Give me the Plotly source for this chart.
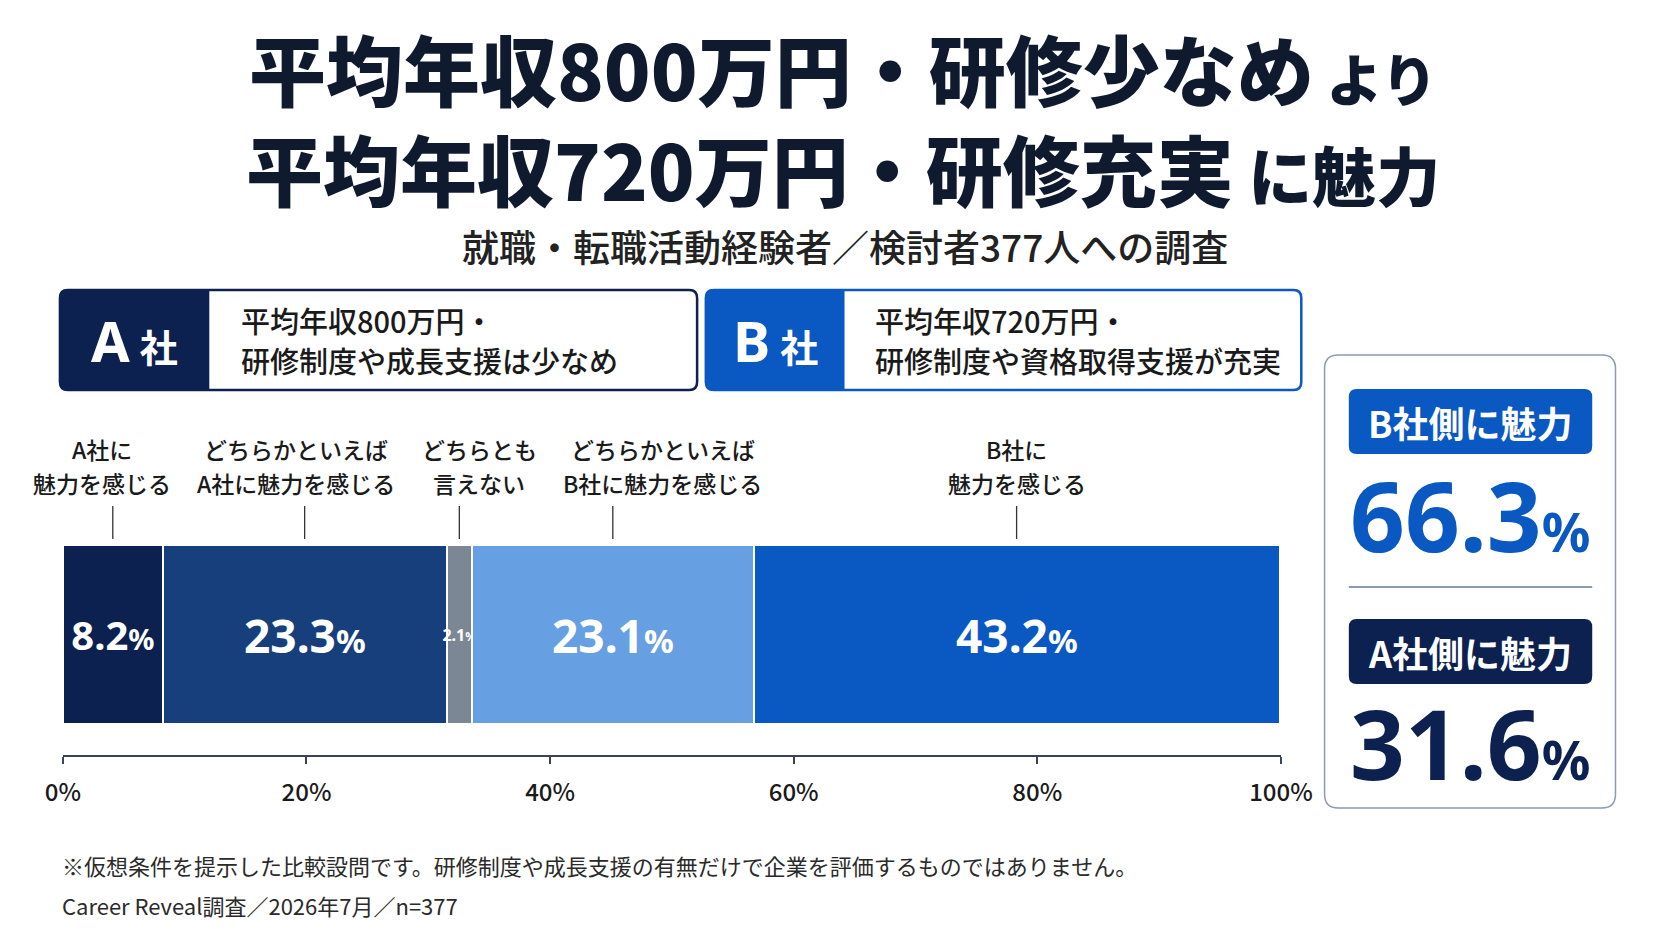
import plotly.graph_objects as go

# ── data ─────────────────────────────────────────────────────────────────────
title_lines = ["平均年収800万円・研修少なめ", "平均年収720万円・研修充実"]
title_tails = ["より", "に魅力"]
subtitle = "就職・転職活動経験者／検討者377人への調査"

company_names = ["A", "B"]
company_lines = [
    ["平均年収800万円・", "研修制度や成長支援は少なめ"],
    ["平均年収720万円・", "研修制度や資格取得支援が充実"],
]

category_labels = [
    ["A社に", "魅力を感じる"],
    ["どちらかといえば", "A社に魅力を感じる"],
    ["どちらとも", "言えない"],
    ["どちらかといえば", "B社に魅力を感じる"],
    ["B社に", "魅力を感じる"],
]
shares = [8.2, 23.3, 2.1, 23.1, 43.2]

summary_labels = ["B社側に魅力", "A社側に魅力"]
summary_values = [66.3, 31.6]

tick_values = [0, 20, 40, 60, 80, 100]
tick_labels = ["0%", "20%", "40%", "60%", "80%", "100%"]

footnotes = [
    "※仮想条件を提示した比較設問です。研修制度や成長支援の有無だけで企業を評価するものではありません。",
    "Career Reveal調査／2026年7月／n=377",
]

# ── style ────────────────────────────────────────────────────────────────────
NAVY = "#0c2150"
BLUE = "#0a58c2"
INK = "#0f1a2e"
TEXT = "#1a1a1a"
FRAME = "#8a9bb2"
SEG_COLORS = [NAVY, "#173f7c", "#7b8794", "#67a0e2", BLUE]
SEG_FONT = [40, 46, 16, 46, 46]
LABEL_SHIFT = [-11, -9, 20, 50, 0]   # px: labels nudged sideways so they don't collide

JP = "Noto Sans CJK JP"
NUM = "Noto Sans, Noto Sans CJK JP"

W, H, OFF = 1656, 925, 8


def X(px):
    return (px - OFF) / W


def Y(py):
    return 1 - (py - OFF) / H


def rrect(x0, y0, x1, y1, r, fill=None, line=None, lw=0, rl=True, rr=True):
    a, b = (r if rl else 0), (r if rr else 0)
    pts = [
        f"M {X(x0 + a)} {Y(y0)}", f"L {X(x1 - b)} {Y(y0)}",
        f"Q {X(x1)} {Y(y0)} {X(x1)} {Y(y0 + b)}", f"L {X(x1)} {Y(y1 - b)}",
        f"Q {X(x1)} {Y(y1)} {X(x1 - b)} {Y(y1)}", f"L {X(x0 + a)} {Y(y1)}",
        f"Q {X(x0)} {Y(y1)} {X(x0)} {Y(y1 - a)}", f"L {X(x0)} {Y(y0 + a)}",
        f"Q {X(x0)} {Y(y0)} {X(x0 + a)} {Y(y0)}", "Z",
    ]
    return dict(type="path", xref="paper", yref="paper", path=" ".join(pts),
                fillcolor=fill or "rgba(0,0,0,0)",
                line=dict(color=line or "rgba(0,0,0,0)", width=lw),
                layer="below")


def note(px, py, text, size, color=TEXT, family=JP, weight=400, xanchor="center"):
    return dict(x=X(px), y=Y(py), xref="paper", yref="paper", text=text,
                showarrow=False, xanchor=xanchor, yanchor="middle",
                font=dict(family=family, size=size, color=color, weight=weight))


fig = go.Figure()

# ── stacked bar ──────────────────────────────────────────────────────────────
starts = [sum(shares[:i]) for i in range(len(shares))]
for i, v in enumerate(shares):
    pct = round(SEG_FONT[i] * 0.72)
    fig.add_trace(go.Bar(
        x=[v], y=[0], orientation="h", width=1,
        marker=dict(color=SEG_COLORS[i], line=dict(color="white", width=2)),
        text=[f"{v}<span style='font-size:{pct}px'>%</span>"],
        textposition="inside", insidetextanchor="middle", textangle=0,
        constraintext="none",
        textfont=dict(family=NUM, size=SEG_FONT[i], color="white", weight=700),
        hoverinfo="skip", showlegend=False,
    ))

shapes = []
annotations = []
for i, v in enumerate(shares):
    mid = starts[i] + v / 2
    # vertical leader from the label down to its segment
    shapes.append(dict(type="line", xref="x", yref="paper", x0=mid, x1=mid,
                       y0=Y(539), y1=Y(506), line=dict(color="#333", width=1.3)))
    for line, py in zip(category_labels[i], [449, 483]):
        annotations.append(dict(
            x=mid, y=Y(py), xref="x", yref="paper", xshift=LABEL_SHIFT[i],
            text=line, showarrow=False, xanchor="center", yanchor="middle",
            font=dict(family=JP, size=23, color=TEXT, weight=500),
        ))

# ── title block ──────────────────────────────────────────────────────────────
title_html = "<br>".join(
    f"{line}<span style='font-size:{ts}px'> {tail}</span>"
    for line, tail, ts in zip(title_lines, title_tails, [56, 64])
)
annotations.append(note(850, 117, title_html, 77, color=INK, weight=900))
annotations.append(note(852, 246, subtitle, 37, color="#222", weight=500))

# ── company boxes ────────────────────────────────────────────────────────────
boxes = [(43, 700, 197, NAVY, 228), (709, 1323, 852, BLUE, 881)]
for (x0, x1, xm, col, tx), name, lines in zip(boxes, company_names, company_lines):
    shapes.append(rrect(x0, 290, x1, 390, 8, fill="white", line=col, lw=2.5))
    shapes.append(rrect(x0, 290, xm, 390, 8, fill=col, rr=False))
    annotations.append(note((x0 + xm) / 2, 340,
                            f"{name}<span style='font-size:38px'> 社</span>",
                            56, color="white", family=NUM, weight=700))
    annotations.append(note(tx, 320, lines[0], 29, weight=500, xanchor="left"))
    annotations.append(note(tx, 360, lines[1], 29, weight=500, xanchor="left"))

# ── summary panel ────────────────────────────────────────────────────────────
shapes.append(rrect(1347, 355, 1647, 808, 14, fill="white", line=FRAME, lw=1.5))
shapes.append(dict(type="line", xref="paper", yref="paper",
                   x0=X(1372), x1=X(1623), y0=Y(587), y1=Y(587),
                   line=dict(color=FRAME, width=2)))
for (by, ny, col), lab, val in zip([(389, 515, BLUE), (619, 742, NAVY)],
                                   summary_labels, summary_values):
    shapes.append(rrect(1372, by, 1623, by + 65, 8, fill=col))
    annotations.append(note(1497, by + 33, lab, 36, color="white", weight=700))
    annotations.append(note(1497, ny, f"{val}<span style='font-size:54px'>%</span>",
                            96, color=col, family=NUM, weight=700))

# ── footnotes ────────────────────────────────────────────────────────────────
annotations.append(note(43, 865, footnotes[0], 22, color="#2a2a2a", xanchor="left"))
annotations.append(note(43, 905, footnotes[1], 22, color="#2a2a2a", xanchor="left"))

axis_col = "#3a4456"
fig.update_layout(
    width=W, height=H, autosize=False,
    margin=dict(l=0, r=0, t=0, b=0),
    paper_bgcolor="white", plot_bgcolor="white",
    barmode="stack", bargap=0, showlegend=False,
    xaxis=dict(domain=[X(46), X(1302)], range=[0, 100], fixedrange=True,
               tickvals=tick_values, ticktext=tick_labels,
               showline=True, linecolor=axis_col, linewidth=2,
               ticks="outside", ticklen=7, tickwidth=1.5, tickcolor=axis_col,
               ticklabelstandoff=8, showgrid=False, zeroline=False,
               tickfont=dict(family=JP, size=24, color=TEXT, weight=500)),
    xaxis2=dict(domain=[X(46), X(1302)], range=[0, 100], overlaying="x", anchor="y",
                side="bottom", tickvals=tick_values, ticks="inside", ticklen=7,
                tickwidth=1.5, tickcolor=axis_col, showticklabels=False,
                showgrid=False, zeroline=False, showline=False, fixedrange=True),
    yaxis=dict(domain=[Y(755), Y(545)], range=[-0.673, 0.5], visible=False,
               fixedrange=True),
    shapes=shapes,
    annotations=annotations,
)

fig.write_html("out.html")
